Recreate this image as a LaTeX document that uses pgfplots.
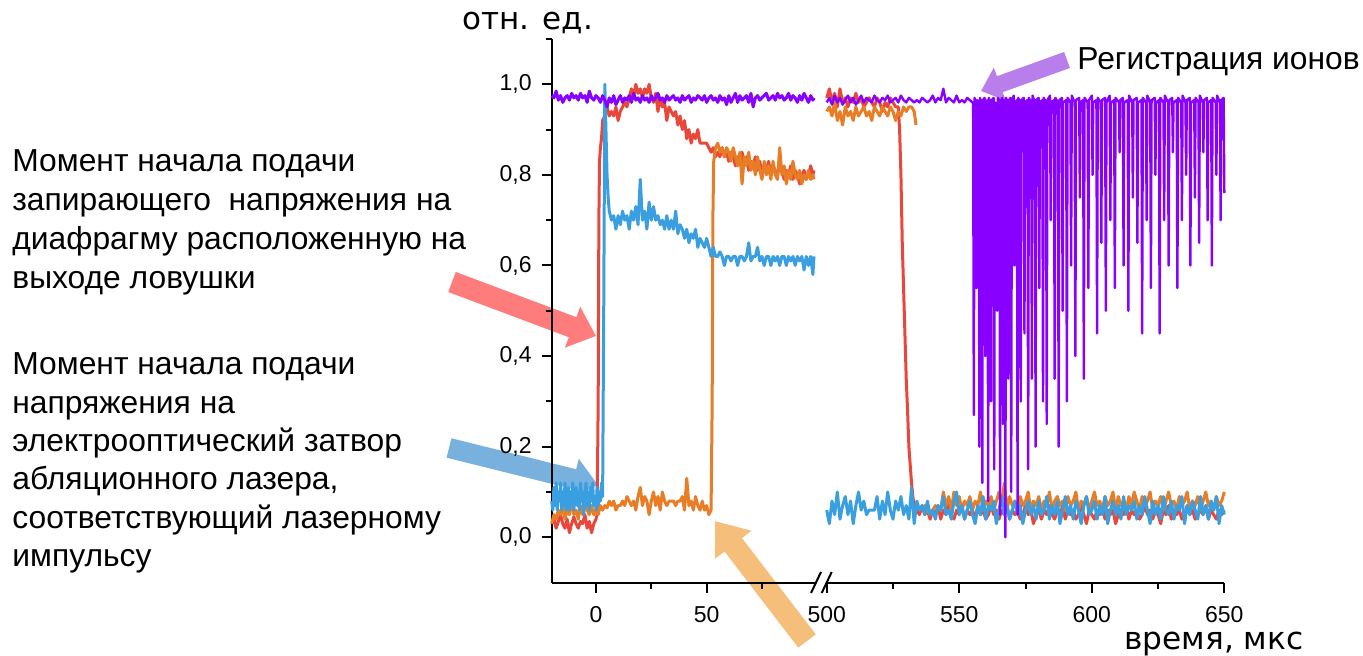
\documentclass[border=0pt]{standalone}
\usepackage{pgfplots}
\pgfplotsset{compat=1.18}
\usepackage{fontspec}
\setmainfont{Liberation Sans}
\newfontfamily\dejavu{DejaVu Sans}
\usetikzlibrary{arrows.meta}
\definecolor{cred}{HTML}{E8473A}
\definecolor{corange}{HTML}{E87D25}
\definecolor{cblue}{HTML}{3A9FE0}
\definecolor{cpurple}{HTML}{8800FF}
\definecolor{ared}{HTML}{FF7C7C}
\definecolor{ablue}{HTML}{78B0DE}
\definecolor{aorange}{HTML}{F5BE7A}
\definecolor{apurple}{HTML}{B87FEB}
\pgfplotsset{
  brk/.style={
    scale only axis, height=271.8pt, ymin=-0.1, ymax=1.1,
    axis line style={line width=1pt}, tick style={line width=1pt, black},
    tick align=outside, major tick length=5pt, minor tick length=3pt,
    clip=false,
    /pgf/number format/assume math mode=true,
    ticklabel style={font=\fontsize{11.5}{13}\selectfont},
    xticklabel style={yshift=-3.5pt},
    yticklabel style={xshift=-1.5pt},
    every axis plot/.append style={line width=1.5pt, line join=round},
  }
}
\begin{document}
\begin{tikzpicture}
\useasboundingbox (0,0) rectangle (681.5pt,328pt);
% arrows (behind)
\begin{scope}[x=0.5pt,y=-0.5pt,shift={(0pt,328pt)}]
\draw[ared, line width=10.7pt, -{Triangle[width=21pt,length=12.5pt]}] (452,282) -- (596,336);
\draw[ablue, line width=10pt, -{Triangle[width=20pt,length=12.5pt]}] (449,448) -- (598,485);
\draw[aorange, line width=11pt, -{Triangle[width=22pt,length=15pt]}] (807,641) -- (715,521);
\draw[apurple, line width=8.5pt, -{Triangle[width=17pt,length=10pt]}] (1067,60) -- (981,91);
\end{scope}

\begin{axis}[brk, at={(275.85pt,36.7pt)}, anchor=south west, width=132.15pt,
  xmin=-20, xmax=99.4, axis x line*=bottom, axis y line*=left,
  xtick={0,50}, minor xtick={25,75},
  ytick={0,0.2,0.4,0.6,0.8,1.0}, minor ytick={0.1,0.3,0.5,0.7,0.9,1.1},
  yticklabel style={/pgf/number format/.cd,fixed,fixed zerofill,precision=1,use comma},
]
\addplot[cred] coordinates {(-20,0.03)(-19,0.04)(-18,0.02)(-17,0.035)(-16,0.05)(-15,0.03)(-14,0.02)(-13,0.04)(-12,0.01)(-11,0.03)(-10,0.045)(-9,0.03)(-8,0.02)(-7,0.035)(-6,0.03)(-5,0.05)(-4,0.02)(-3,0.035)(-2,0.01)(-1,0.03)(0,0.04)(0.5,0.05)(1,0.3)(1.3,0.7)(1.6,0.83)(2,0.86)(2.5,0.88)(3,0.92)(4,0.93)(5,0.95)(6,0.93)(7,0.94)(8,0.93)(9,0.95)(10,0.92)(11,0.94)(12,0.95)(13,0.96)(14,0.95)(15,0.97)(16,0.99)(17,0.97)(18,1.0)(19,0.98)(20,0.99)(21,0.97)(22,0.99)(23,0.98)(24,1.0)(25,0.97)(26,0.96)(27,0.98)(28,0.94)(29,0.97)(30,0.95)(31,0.96)(32,0.92)(33,0.95)(34,0.94)(35,0.93)(36,0.94)(37,0.91)(38,0.93)(39,0.9)(40,0.92)(41,0.88)(42,0.9)(43,0.87)(44,0.89)(45,0.88)(46,0.9)(47,0.87)(48,0.87)(49,0.87)(50,0.87)(51,0.86)(52,0.85)(53,0.86)(54,0.84)(55,0.85)(56,0.84)(57,0.86)(58,0.84)(59,0.85)(60,0.83)(61,0.85)(62,0.84)(63,0.82)(64,0.84)(65,0.83)(66,0.85)(67,0.82)(68,0.84)(69,0.81)(70,0.83)(71,0.82)(72,0.84)(73,0.81)(74,0.83)(75,0.8)(76,0.82)(77,0.81)(78,0.83)(79,0.8)(80,0.82)(81,0.81)(82,0.8)(83,0.82)(84,0.81)(85,0.79)(86,0.81)(87,0.8)(88,0.82)(89,0.79)(90,0.81)(91,0.8)(92,0.78)(93,0.8)(94,0.81)(95,0.79)(96,0.8)(97,0.82)(98,0.8)(98.5,0.81)};
\addplot[corange] coordinates {(-20,0.03)(-19,0.05)(-18,0.04)(-17,0.06)(-16,0.05)(-15,0.07)(-14,0.04)(-13,0.06)(-12,0.05)(-11,0.08)(-10,0.05)(-9,0.06)(-8,0.04)(-7,0.07)(-6,0.05)(-5,0.08)(-4,0.06)(-3,0.05)(-2,0.07)(-1,0.05)(0,0.06)(1,0.05)(2,0.07)(3,0.06)(4,0.07)(5,0.065)(6,0.08)(7,0.07)(8,0.08)(9,0.06)(10,0.07)(11,0.07)(12,0.08)(13,0.07)(14,0.09)(15,0.08)(16,0.07)(17,0.08)(18,0.06)(19,0.09)(20,0.11)(21,0.07)(22,0.09)(23,0.08)(24,0.05)(25,0.08)(26,0.1)(27,0.07)(28,0.09)(29,0.06)(30,0.1)(31,0.08)(32,0.07)(33,0.08)(34,0.08)(35,0.08)(36,0.07)(37,0.08)(38,0.08)(39,0.09)(40,0.06)(41,0.13)(42,0.07)(43,0.08)(44,0.06)(45,0.09)(46,0.07)(47,0.06)(48,0.08)(49,0.06)(50,0.07)(51,0.05)(52,0.06)(52.5,0.3)(52.8,0.7)(53.2,0.83)(54,0.86)(55,0.87)(56,0.85)(57,0.86)(58,0.84)(59,0.86)(60,0.85)(61,0.83)(62,0.86)(63,0.84)(64,0.82)(65,0.85)(66,0.78)(67,0.84)(68,0.82)(69,0.85)(70,0.81)(71,0.83)(72,0.8)(73,0.84)(74,0.81)(75,0.79)(76,0.83)(77,0.8)(78,0.82)(79,0.79)(80,0.83)(81,0.8)(82,0.79)(83,0.86)(84,0.8)(85,0.82)(86,0.78)(87,0.81)(88,0.79)(89,0.83)(90,0.8)(91,0.79)(92,0.81)(93,0.78)(94,0.8)(95,0.79)(96,0.81)(97,0.79)(98,0.8)(98.5,0.79)};
\addplot[cblue] coordinates {(-20,0.08)(-19.5,0.06)(-19,0.11)(-18.5,0.07)(-18,0.12)(-17.5,0.06)(-17,0.1)(-16.5,0.08)(-16,0.12)(-15.5,0.06)(-15,0.1)(-14.5,0.07)(-14,0.12)(-13.5,0.06)(-13,0.09)(-12.5,0.11)(-12,0.06)(-11.5,0.1)(-11,0.07)(-10.5,0.12)(-10,0.06)(-9.5,0.09)(-9,0.11)(-8.5,0.07)(-8,0.1)(-7.5,0.06)(-7,0.12)(-6.5,0.08)(-6,0.1)(-5.5,0.05)(-5,0.09)(-4.5,0.12)(-4,0.07)(-3.5,0.1)(-3,0.06)(-2.5,0.11)(-2,0.08)(-1.5,0.12)(-1,0.07)(-0.5,0.09)(0,0.06)(0.5,0.11)(1,0.07)(1.5,0.1)(2,0.08)(2.5,0.12)(3,0.09)(3.5,0.5)(4,1.0)(4.5,0.9)(5,0.8)(5.5,0.75)(6,0.72)(7,0.7)(8,0.71)(9,0.68)(10,0.71)(11,0.69)(12,0.72)(13,0.7)(14,0.71)(15,0.68)(16,0.72)(17,0.7)(18,0.73)(19,0.69)(20,0.79)(21,0.7)(22,0.72)(23,0.68)(24,0.74)(25,0.7)(26,0.73)(27,0.7)(28,0.71)(29,0.69)(30,0.7)(31,0.68)(32,0.71)(33,0.68)(34,0.7)(35,0.68)(36,0.72)(37,0.67)(38,0.69)(39,0.68)(40,0.66)(41,0.68)(42,0.65)(43,0.67)(44,0.66)(45,0.68)(46,0.64)(47,0.66)(48,0.65)(49,0.64)(50,0.66)(51,0.64)(52,0.62)(53,0.64)(54,0.62)(55,0.62)(56,0.63)(57,0.62)(58,0.6)(59,0.62)(60,0.62)(61,0.61)(62,0.62)(63,0.62)(64,0.6)(65,0.62)(66,0.62)(67,0.61)(68,0.62)(69,0.65)(70,0.61)(71,0.62)(72,0.62)(73,0.64)(74,0.61)(75,0.62)(76,0.6)(77,0.62)(78,0.62)(79,0.6)(80,0.62)(81,0.61)(82,0.62)(83,0.6)(84,0.62)(85,0.62)(86,0.6)(87,0.62)(88,0.61)(89,0.62)(90,0.6)(91,0.62)(92,0.61)(93,0.62)(94,0.59)(95,0.62)(96,0.6)(97,0.62)(98,0.58)(98.5,0.62)};
\addplot[cpurple] coordinates {(-20,0.975)(-19,0.97)(-18,0.985)(-17,0.965)(-16,0.975)(-15,0.96)(-14,0.97)(-13,0.975)(-12,0.965)(-11,0.98)(-10,0.97)(-9,0.975)(-8,0.965)(-7,0.98)(-6,0.97)(-5,0.975)(-4,0.96)(-3,0.985)(-2,0.97)(-1,0.965)(0,0.975)(1,0.97)(2,0.96)(3,0.975)(4,0.965)(5,0.95)(6,0.97)(7,0.96)(8,0.975)(9,0.955)(10,0.965)(11,0.975)(12,0.96)(13,0.97)(14,0.965)(15,0.975)(16,0.96)(17,0.98)(18,0.965)(19,0.97)(20,0.96)(21,0.975)(22,0.965)(23,0.97)(24,0.96)(25,0.975)(26,0.965)(27,0.97)(28,0.98)(29,0.965)(30,0.97)(31,0.96)(32,0.975)(33,0.965)(34,0.97)(35,0.975)(36,0.965)(37,0.97)(38,0.96)(39,0.975)(40,0.965)(41,0.97)(42,0.975)(43,0.96)(44,0.97)(45,0.965)(46,0.975)(47,0.97)(48,0.965)(49,0.975)(50,0.96)(51,0.97)(52,0.975)(53,0.965)(54,0.97)(55,0.96)(56,0.975)(57,0.965)(58,0.97)(59,0.955)(60,0.975)(61,0.96)(62,0.97)(63,0.98)(64,0.96)(65,0.975)(66,0.965)(67,0.97)(68,0.975)(69,0.96)(70,0.98)(71,0.95)(72,0.97)(73,0.975)(74,0.965)(75,0.97)(76,0.975)(77,0.98)(78,0.965)(79,0.97)(80,0.975)(81,0.965)(82,0.98)(83,0.97)(84,0.975)(85,0.965)(86,0.97)(87,0.98)(88,0.965)(89,0.975)(90,0.97)(91,0.96)(92,0.975)(93,0.965)(94,0.98)(95,0.97)(96,0.96)(97,0.975)(98,0.965)(98.5,0.97)};
\end{axis}

\begin{axis}[brk, at={(413.35pt,36.7pt)}, anchor=south west, width=198.8pt,
  xmin=500, xmax=650, axis x line*=bottom, axis y line=none,
  xtick={500,550,600,650}, minor xtick={525,575,625},
]
\addplot[cred] coordinates {(500,0.97)(501,0.99)(502,0.96)(503,0.98)(504,0.95)(505,0.99)(506,0.96)(507,0.97)(508,0.95)(509,0.97)(510,0.96)(511,0.98)(512,0.96)(513,0.97)(514,0.95)(515,0.96)(516,0.97)(517,0.96)(518,0.95)(519,0.97)(520,0.96)(521,0.94)(522,0.96)(523,0.95)(524,0.97)(525,0.96)(526,0.95)(527,0.95)(527.5,0.9)(528,0.8)(528.5,0.65)(529,0.55)(529.5,0.45)(530,0.35)(530.5,0.28)(531,0.2)(531.5,0.16)(532,0.12)(532.5,0.09)(533,0.07)(534,0.06)(535,0.05)(536,0.07)(537,0.05)(538,0.06)(539,0.04)(540,0.06)(541,0.05)(542,0.07)(543,0.04)(544,0.06)(545,0.05)(546,0.08)(547,0.05)(548,0.04)(549,0.06)(550,0.05)(551,0.07)(552,0.04)(553,0.06)(554,0.05)(555,0.06)(556,0.04)(557,0.07)(558,0.05)(559,0.06)(560,0.04)(561,0.05)(562,0.07)(563,0.05)(564,0.06)(565,0.04)(566,0.06)(567,0.05)(568,0.07)(569,0.04)(570,0.06)(571,0.05)(572,0.06)(573,0.04)(574,0.05)(575,0.07)(576,0.05)(577,0.06)(578,0.03)(579,0.05)(580,0.06)(581,0.04)(582,0.06)(583,0.05)(584,0.07)(585,0.05)(586,0.04)(587,0.06)(588,0.05)(589,0.07)(590,0.04)(591,0.06)(592,0.05)(593,0.06)(594,0.04)(595,0.05)(596,0.07)(597,0.05)(598,0.03)(599,0.06)(600,0.05)(601,0.04)(602,0.06)(603,0.05)(604,0.07)(605,0.04)(606,0.06)(607,0.05)(608,0.06)(609,0.03)(610,0.05)(611,0.06)(612,0.05)(613,0.07)(614,0.04)(615,0.06)(616,0.05)(617,0.06)(618,0.04)(619,0.05)(620,0.07)(621,0.05)(622,0.06)(623,0.04)(624,0.06)(625,0.05)(626,0.03)(627,0.06)(628,0.05)(629,0.07)(630,0.04)(631,0.06)(632,0.05)(633,0.06)(634,0.04)(635,0.05)(636,0.07)(637,0.05)(638,0.06)(639,0.04)(640,0.05)(641,0.06)(642,0.05)(643,0.07)(644,0.04)(645,0.06)(646,0.05)(647,0.04)(648,0.06)(649,0.05)(650,0.06)};
\addplot[corange] coordinates {(500,0.94)(501,0.95)(502,0.93)(503,0.96)(504,0.92)(505,0.94)(506,0.91)(507,0.95)(508,0.93)(509,0.94)(510,0.92)(511,0.95)(512,0.93)(513,0.94)(514,0.95)(515,0.93)(516,0.94)(517,0.92)(518,0.95)(519,0.94)(520,0.93)(521,0.95)(522,0.94)(523,0.93)(524,0.95)(525,0.94)(526,0.92)(527,0.94)(528,0.93)(529,0.95)(530,0.94)(531,0.95)(532,0.95)(533,0.94)(533.7,0.91)};
\addplot[corange] coordinates {(536,0.06)(537,0.07)(539,0.05)(541,0.07)(543,0.06)(544,0.1)(545,0.07)(546,0.09)(547,0.06)(548,0.1)(549,0.07)(550,0.09)(551,0.06)(552,0.08)(553,0.07)(554,0.09)(555,0.06)(556,0.08)(557,0.07)(558,0.1)(559,0.06)(560,0.08)(561,0.07)(562,0.09)(563,0.06)(564,0.08)(565,0.1)(566,0.07)(567,0.12)(568,0.06)(569,0.09)(570,0.07)(571,0.08)(572,0.06)(573,0.09)(574,0.07)(575,0.08)(576,0.1)(577,0.06)(578,0.08)(579,0.07)(580,0.09)(581,0.06)(582,0.08)(583,0.07)(584,0.1)(585,0.06)(586,0.08)(587,0.09)(588,0.07)(589,0.08)(590,0.06)(591,0.09)(592,0.07)(593,0.08)(594,0.1)(595,0.06)(596,0.08)(597,0.07)(598,0.09)(599,0.06)(600,0.08)(601,0.1)(602,0.07)(603,0.08)(604,0.06)(605,0.09)(606,0.07)(607,0.08)(608,0.1)(609,0.06)(610,0.09)(611,0.07)(612,0.08)(613,0.06)(614,0.09)(615,0.07)(616,0.1)(617,0.08)(618,0.06)(619,0.09)(620,0.07)(621,0.08)(622,0.1)(623,0.06)(624,0.08)(625,0.07)(626,0.09)(627,0.06)(628,0.08)(629,0.1)(630,0.07)(631,0.08)(632,0.06)(633,0.09)(634,0.07)(635,0.08)(636,0.1)(637,0.06)(638,0.08)(639,0.07)(640,0.09)(641,0.06)(642,0.08)(643,0.1)(644,0.07)(645,0.08)(646,0.06)(647,0.09)(648,0.07)(649,0.08)(650,0.1)};
\addplot[cblue] coordinates {(500,0.06)(501,0.03)(502,0.08)(503,0.05)(504,0.1)(505,0.04)(506,0.07)(507,0.09)(508,0.05)(509,0.08)(510,0.03)(511,0.07)(512,0.1)(513,0.06)(514,0.08)(515,0.05)(516,0.06)(517,0.06)(518,0.06)(519,0.09)(520,0.04)(521,0.08)(522,0.05)(523,0.1)(524,0.06)(525,0.04)(526,0.08)(527,0.06)(528,0.09)(529,0.05)(530,0.07)(531,0.04)(532,0.11)(533,0.03)(534,0.08)(535,0.06)(536,0.07)(537,0.05)(538,0.08)(539,0.05)(540,0.06)(541,0.04)(542,0.07)(543,0.06)(544,0.09)(545,0.05)(546,0.06)(547,0.04)(548,0.08)(549,0.1)(550,0.05)(551,0.07)(552,0.04)(553,0.06)(554,0.08)(555,0.05)(556,0.03)(557,0.07)(558,0.05)(559,0.09)(560,0.04)(561,0.07)(562,0.06)(563,0.08)(564,0.03)(565,0.06)(566,0.09)(567,0.05)(568,0.07)(569,0.04)(570,0.06)(571,0.08)(572,0.05)(573,0.07)(574,0.03)(575,0.06)(576,0.08)(577,0.05)(578,0.07)(579,0.04)(580,0.08)(581,0.05)(582,0.06)(583,0.09)(584,0.04)(585,0.07)(586,0.05)(587,0.08)(588,0.03)(589,0.06)(590,0.09)(591,0.05)(592,0.07)(593,0.04)(594,0.08)(595,0.06)(596,0.03)(597,0.07)(598,0.09)(599,0.05)(600,0.06)(601,0.08)(602,0.04)(603,0.07)(604,0.05)(605,0.09)(606,0.03)(607,0.06)(608,0.08)(609,0.05)(610,0.07)(611,0.04)(612,0.09)(613,0.05)(614,0.07)(615,0.06)(616,0.08)(617,0.04)(618,0.07)(619,0.05)(620,0.09)(621,0.06)(622,0.03)(623,0.08)(624,0.05)(625,0.07)(626,0.04)(627,0.09)(628,0.06)(629,0.05)(630,0.08)(631,0.04)(632,0.07)(633,0.06)(634,0.09)(635,0.03)(636,0.07)(637,0.05)(638,0.08)(639,0.06)(640,0.04)(641,0.09)(642,0.05)(643,0.07)(644,0.04)(645,0.08)(646,0.06)(647,0.09)(648,0.03)(649,0.07)(650,0.05)};
\addplot[cpurple, line width=1.2pt] coordinates {(500,0.96)(501,0.97)(502,0.955)(503,0.975)(504,0.96)(505,0.97)(506,0.955)(507,0.965)(508,0.975)(509,0.96)(510,0.97)(511,0.955)(512,0.965)(513,0.975)(514,0.96)(515,0.97)(516,0.965)(517,0.96)(518,0.975)(519,0.965)(520,0.96)(521,0.97)(522,0.965)(523,0.975)(524,0.96)(525,0.965)(526,0.97)(527,0.96)(528,0.975)(529,0.965)(530,0.96)(531,0.97)(532,0.965)(533,0.96)(534,0.965)(535,0.96)(536,0.97)(537,0.965)(538,0.96)(539,0.965)(540,0.975)(541,0.96)(542,0.97)(543,0.965)(544,0.99)(545,0.96)(546,0.97)(547,0.965)(548,0.96)(549,0.975)(550,0.96)(551,0.965)(552,0.96)(553,0.97)(554,0.965)
(555,0.96)(555.25,0.96)(555.5,0.27)(555.75,0.97)(556.25,0.96)(556.5,0.55)(556.75,0.965)(557.35,0.96)(557.6,0.2)(557.85,0.97)(558.45,0.955)(558.7,0.12)(558.95,0.965)(559.55,0.97)(559.8,0.4)(560.05,0.96)(560.65,0.965)(560.9,0.08)(561.15,0.97)(561.75,0.96)(562,0.3)(562.25,0.965)(562.95,0.97)(563.2,0.15)(563.45,0.96)(564.05,0.955)(564.3,0.5)(564.55,0.97)(565.15,0.965)(565.4,0.05)(565.65,0.96)(566.25,0.97)(566.5,0.25)(566.75,0.96)(567.15,0.965)(567.4,0.0)(567.65,0.97)(568.25,0.96)(568.5,0.35)(568.75,0.965)(569.35,0.97)(569.6,0.1)(569.85,0.96)(570.55,0.975)(570.8,0.6)(571.05,0.96)(571.75,0.965)(572,0.05)(572.25,0.97)(572.95,0.96)(573.2,0.3)(573.45,0.965)(574.35,0.97)(574.6,0.45)(574.85,0.96)(575.75,0.965)(576,0.15)(576.25,0.97)(577.15,0.96)(577.4,0.35)(577.65,0.975)(578.55,0.96)(578.8,0.2)(579.05,0.965)(579.95,0.97)(580.2,0.55)(580.45,0.96)(581.35,0.965)(581.6,0.3)(581.85,0.97)(582.75,0.96)(583,0.25)(583.25,0.965)(584.25,0.975)(584.5,0.7)(584.75,0.96)(585.75,0.965)(586,0.35)(586.25,0.97)(587.25,0.96)(587.5,0.2)(587.75,0.965)(588.75,0.97)(589,0.5)(589.25,0.96)(590.35,0.965)(590.6,0.3)(590.85,0.97)(591.95,0.96)(592.2,0.6)(592.45,0.975)(593.55,0.96)(593.8,0.4)(594.05,0.965)(595.25,0.97)(595.5,0.75)(595.75,0.96)(596.75,0.965)(597,0.35)(597.25,0.97)(598.45,0.96)(598.7,0.55)(598.95,0.965)(600.05,0.975)(600.3,0.8)(600.55,0.96)(601.75,0.965)(602,0.45)(602.25,0.97)(603.35,0.96)(603.6,0.65)(603.85,0.965)(605.05,0.97)(605.3,0.5)(605.55,0.96)(606.75,0.975)(607,0.7)(607.25,0.96)(608.45,0.965)(608.7,0.55)(608.95,0.97)(610.25,0.96)(610.5,0.85)(610.75,0.965)(611.75,0.97)(612,0.6)(612.25,0.96)(613.55,0.965)(613.8,0.5)(614.05,0.975)(615.25,0.96)(615.5,0.75)(615.75,0.965)(616.95,0.97)(617.2,0.65)(617.45,0.96)(618.75,0.965)(619,0.45)(619.25,0.97)(620.45,0.96)(620.7,0.7)(620.95,0.975)(622.05,0.96)(622.3,0.55)(622.55,0.965)(623.75,0.97)(624,0.8)(624.25,0.96)(625.35,0.965)(625.6,0.45)(625.85,0.97)(627.05,0.96)(627.3,0.7)(627.55,0.975)(628.75,0.96)(629,0.6)(629.25,0.965)(630.35,0.97)(630.6,0.85)(630.85,0.96)(632.05,0.965)(632.3,0.55)(632.55,0.97)(633.75,0.96)(634,0.7)(634.25,0.975)(635.35,0.96)(635.6,0.8)(635.85,0.965)(636.95,0.97)(637.2,0.6)(637.45,0.96)(638.65,0.965)(638.9,0.75)(639.15,0.97)(640.25,0.96)(640.5,0.65)(640.75,0.975)(641.85,0.96)(642.1,0.85)(642.35,0.965)(643.45,0.97)(643.7,0.7)(643.95,0.96)(645.05,0.965)(645.3,0.6)(645.55,0.97)(646.75,0.96)(647,0.8)(647.25,0.975)(648.35,0.96)(648.6,0.7)(648.85,0.965)(649.75,0.97)(650,0.76)};
\end{axis}

% break marks and labels
\begin{scope}[x=0.5pt,y=-0.5pt,shift={(0pt,328pt)}]
\draw[line width=1pt] (811,593) -- (821,572);
\draw[line width=1pt] (821.7,593) -- (831.7,572);
\node[anchor=base west, inner sep=0pt, font=\dejavu\fontsize{15.5}{18}\selectfont] at (462,30) {отн. ед.};
\node[anchor=base west, inner sep=0pt, font=\dejavu\fontsize{15.6}{18}\selectfont] at (1124,650) {время, мкс};
\node[anchor=base west, inner sep=0pt, font=\fontsize{15.9}{18}\selectfont] at (1077,70) {Регистрация ионов};
\begin{scope}[every node/.style={anchor=base west, inner sep=0pt, font=\fontsize{15.9}{18}\selectfont}]
\node at (12,171.7) {Момент начала подачи};
\node at (12,211) {запирающего\ \ напряжения на};
\node at (12,250) {диафрагму расположенную на};
\node at (12,288.6) {выходе ловушки};
\node at (12,375) {Момент начала подачи};
\node at (12,413.3) {напряжения на};
\node at (12,451.7) {электрооптический затвор};
\node at (12,490) {абляционного лазера,};
\node at (12,528.3) {соответствующий лазерному};
\node at (12,566.7) {импульсу};
\end{scope}
\end{scope}
\end{tikzpicture}
\end{document}
